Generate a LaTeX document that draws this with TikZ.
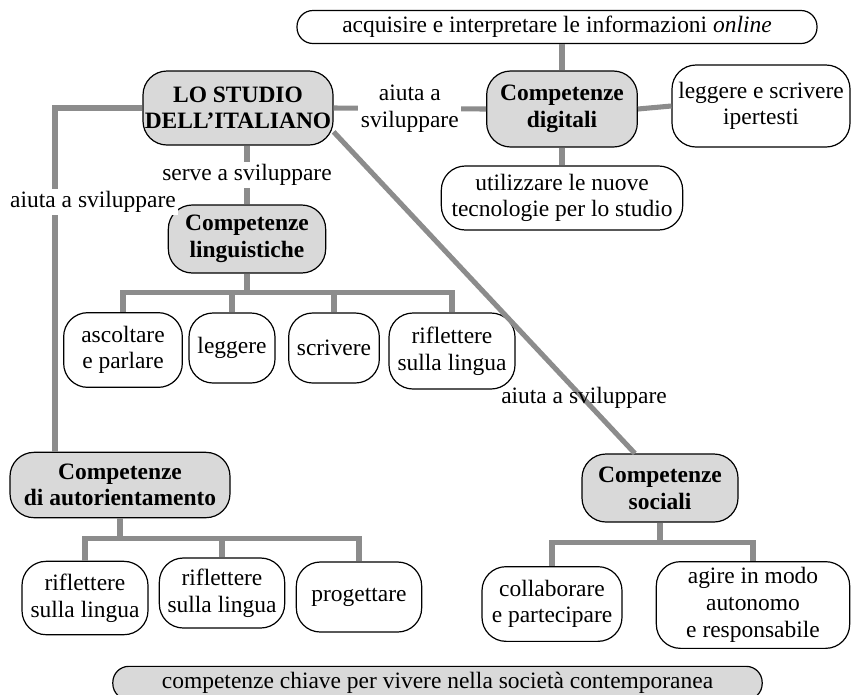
\documentclass[tikz,border=0pt]{standalone}
\usepackage{fontspec}
\setmainfont{Liberation Serif}
\usetikzlibrary{calc,positioning}
\definecolor{linkgray}{RGB}{140,140,140}
\definecolor{boxgray}{RGB}{217,217,217}

\begin{document}
\begin{tikzpicture}[x=0.75pt, y=-0.75pt,
    every node/.style={font=\fontsize{17.6}{20}\selectfont, align=center, inner sep=1pt},
    box/.style={draw=black, line width=0.9pt, fill=white, rounded corners=18pt},
    key/.style={box, fill=boxgray, font=\fontsize{17.6}{20}\selectfont\bfseries},
    pill/.style={box, rounded corners=12pt},
    link/.style={draw=linkgray, line width=3.8pt},
    lab/.style={fill=white, inner sep=2pt}]
  \useasboundingbox (0,0) rectangle (852,694);

  % Digital skills
  \node[pill, minimum width=390pt, minimum height=24.75pt] (online) at (557,27)
    {acquisire e interpretare le informazioni \textit{online}};
  \node[key, minimum width=142.5pt, minimum height=55.5pt] (studio) at (238,108)
    {LO STUDIO\\DELL'ITALIANO};
  \node[key, minimum width=113pt, minimum height=57pt] (digitali) at (562,109)
    {Competenze\\digitali};
  \node[box, minimum width=133.5pt, minimum height=61.5pt] (ipertesti) at (761,106)
    {leggere e scrivere\\ipertesti};
  \node[box, minimum width=181pt, minimum height=48pt] (tecno) at (562,198)
    {utilizzare le nuove\\tecnologie per lo studio};

  % Language skills
  \node[key, minimum width=118pt, minimum height=51pt] (lingu) at (247,239)
    {Competenze\\linguistiche};
  \node[box, minimum width=89pt, minimum height=56pt] (ascolt) at (123,350)
    {ascoltare\\e parlare};
  \node[box, minimum width=64.5pt, minimum height=52.5pt] (legg) at (232,348) {leggere};
  \node[box, minimum width=68pt, minimum height=52.5pt] (scriv) at (334,348) {scrivere};
  \node[box, minimum width=94.5pt, minimum height=57pt] (riflA) at (452,351)
    {riflettere\\sulla lingua};

  % Self-orientation skills
  \node[key, minimum width=165pt, minimum height=49pt] (autor) at (120,485)
    {Competenze\\di autorientamento};
  \node[box, minimum width=94.5pt, minimum height=55pt] (riflB) at (85,598)
    {riflettere\\sulla lingua};
  \node[box, minimum width=94pt, minimum height=52.5pt] (riflC) at (222,593)
    {riflettere\\sulla lingua};
  \node[box, minimum width=94pt, minimum height=52.5pt] (proget) at (359,597) {progettare};

  % Social skills
  \node[key, minimum width=117pt, minimum height=51pt] (sociali) at (660,488)
    {Competenze\\sociali};
  \node[box, minimum width=105pt, minimum height=56pt] (collab) at (552,604)
    {collaborare\\e partecipare};
  \node[box, minimum width=145pt, minimum height=65pt] (agire) at (753,605)
    {agire in modo\\autonomo\\e responsabile};

  % Footer
  \node[pill, fill=boxgray, minimum width=487pt, minimum height=25pt] (chiave) at (437.5,683)
    {competenze chiave per vivere nella società contemporanea};

  % Links from the main node
  \draw[link] (studio.east) -- node[lab] {aiuta a\\sviluppare} (digitali.west);
  \draw[link] (lingu.north) -- node[lab] {serve a sviluppare} (lingu.north |- studio.south);
  \draw[link] (studio.west) -| ($(autor.north)+(-65,0)$);
  \node[lab] (aiutaB) at (93,202) {aiuta a sviluppare};
  \draw[link] (studio.-14) -- (sociali.126);
  \node (aiutaC) at (584,398) {aiuta a sviluppare};

  % Digital branches
  \draw[link] (digitali.north) -- (digitali.north |- online.south);
  \draw[link] (digitali.east) -- (ipertesti.west);
  \draw[link] (digitali.south) -- (tecno.north);

  % Trees
  \coordinate (lbar) at ($(lingu.south)+(0,19)$);
  \draw[link] (lingu.south) -- (lbar);
  \draw[link] (ascolt.north) |- (lbar) -| (riflA.north);
  \foreach \n in {legg,scriv}
    \draw[link] (\n.north) -- (\n.north |- lbar);

  \coordinate (abar) at ($(autor.south)+(0,20)$);
  \draw[link] (autor.south) -- (abar);
  \draw[link] (riflB.north) |- (abar) -| (proget.north);
  \draw[link] (riflC.north) -- (riflC.north |- abar);

  \coordinate (sbar) at ($(sociali.south)+(0,20)$);
  \draw[link] (sociali.south) -- (sbar);
  \draw[link] (collab.north) |- (sbar) -| (agire.north);
\end{tikzpicture}
\end{document}
